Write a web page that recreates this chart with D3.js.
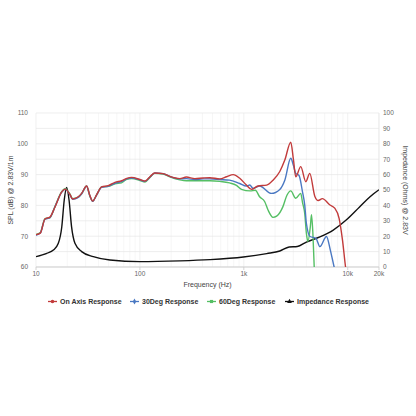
<!DOCTYPE html>
<html>
<head>
<meta charset="utf-8">
<script src="https://cdn.jsdelivr.net/npm/d3@7"></script>
<style>
  body { margin: 0; background: #fff; }
  svg { font-family: "Liberation Sans", Arial, sans-serif; }
</style>
</head>
<body>
<script>
// Dati (frequenza in Hz, SPL in dB, impedenza in Ohm)
var onAxisF = [10, 11, 12.2, 13.6, 15.2, 17.7, 19, 21.2, 22.5, 25.5, 27.5, 30.7, 33, 35.1, 38.4, 42.8, 49.6, 57.5, 66.6, 74.7, 83.3, 100, 112, 125, 139, 167, 194, 242, 280, 338, 405, 471, 588, 682, 790, 914, 1060, 1185, 1370, 1660, 1910, 2220, 2480, 2830, 3000, 3160, 3530, 3950, 4310, 4820, 5200, 5700, 6700, 7500, 8260, 8900, 9530, 10000];
var onAxisV = [70.5, 71, 75.6, 76.2, 79.4, 84.4, 85.3, 83.6, 82.1, 82.8, 83.9, 86.3, 83.2, 81.4, 83.5, 86, 86.4, 87.5, 88, 88.8, 89.1, 88.4, 87.9, 89.3, 90.5, 90.3, 89.4, 88.7, 89.2, 88.7, 88.9, 89, 88.6, 89.3, 90, 88.8, 86.6, 85.2, 86.3, 86.6, 88.2, 91, 94.7, 100.5, 95, 89.3, 92.6, 87.7, 90.4, 83, 81.6, 82.2, 80.2, 79.1, 75.8, 68.8, 60, 55];

var deg30F = [10, 11, 12.2, 13.6, 15.2, 17.7, 19, 21.2, 22.5, 25.5, 27.5, 30.7, 33, 35.1, 38.4, 42.8, 49.6, 57.5, 66.6, 74.7, 83.3, 100, 112, 125, 139, 167, 194, 242, 280, 338, 405, 471, 588, 730, 914, 1060, 1140, 1230, 1420, 1840, 2220, 2480, 2830, 3000, 3160, 3400, 3670, 3860, 4000, 4340, 4950, 5400, 6240, 6800, 7400, 7800];
var deg30V = [70.3, 71, 75.5, 76, 79.5, 84.3, 85.2, 83.5, 82, 82.6, 83.8, 86.2, 83.1, 81.3, 83.4, 85.9, 86.2, 87.2, 87.7, 88.6, 88.9, 88.3, 87.8, 89.2, 90.5, 90.3, 89.4, 88.6, 88.7, 88.4, 88.6, 88.6, 88.4, 88.2, 87.1, 86.3, 86.6, 85.5, 86.3, 83.9, 85.2, 88.2, 95.3, 93, 90.4, 89.7, 84.4, 80, 74.2, 69.9, 69.3, 66.6, 69.9, 65.5, 60, 57];

var deg60F = [10, 11, 12.2, 13.6, 15.2, 17.7, 19, 21.2, 22.5, 25.5, 27.5, 30.7, 33, 35.1, 38.4, 42.8, 49.6, 57.5, 66.6, 74.7, 83.3, 100, 112, 125, 139, 167, 194, 242, 280, 338, 405, 471, 588, 730, 850, 950, 1150, 1290, 1420, 1590, 1710, 1910, 2070, 2380, 2600, 2830, 3160, 3530, 3670, 3860, 4000, 4140, 4370, 4480, 4620, 4760, 4850];
var deg60V = [70.6, 71.2, 75.7, 76, 79.6, 84.5, 85.4, 83.7, 82.2, 82.7, 83.8, 86.3, 83, 81.4, 83.5, 86, 86.2, 87, 87.3, 88.5, 88.7, 88.1, 87.6, 89.1, 90.4, 90.2, 89.3, 88.3, 88, 88, 88, 88, 87.8, 87.3, 86.5, 85.2, 84.7, 84.9, 82.8, 81.2, 78.5, 76.1, 76.5, 79.6, 83.3, 84.7, 82.3, 83.9, 81, 77.3, 71, 68.3, 73.2, 77, 71, 60, 55];

var impF = [10, 12.7, 14.7, 16.4, 17.7, 18.7, 19.7, 20.8, 22, 23.7, 27.5, 35.6, 51.5, 100, 242, 471, 990, 1660, 2220, 2730, 3270, 4000, 5400, 7200, 9600, 13000, 16300, 20000];
var impV = [6.7, 8.9, 11, 15.4, 26, 43.5, 51.7, 43.5, 26, 15.4, 10, 6.7, 4.5, 3.5, 4, 4.8, 6.5, 8.7, 10.4, 13, 13.3, 16.2, 19.5, 23.8, 30.3, 39, 45.5, 50.2];

var xTicks = [10, 100, 1000, 10000, 20000];
var xTickLabels = ["10", "100", "1k", "10k", "20k"];
var splTicks = [60, 70, 80, 90, 100, 110];
var impTicks = [0, 10, 20, 30, 40, 50, 60, 70, 80, 90, 100];

var seriesNames = ["On Axis Response", "30Deg Response", "60Deg Response", "Impedance Response"];
var seriesColors = ["#c23b3b", "#4a78c2", "#55bf64", "#111111"];

// Area di disegno
var W = 416, H = 416;
var margin = { top: 113, right: 37, bottom: 149, left: 36 };
var width = W - margin.left - margin.right;
var height = H - margin.top - margin.bottom;

var svg = d3.select("body").append("svg")
  .attr("width", W)
  .attr("height", H);

var g = svg.append("g")
  .attr("transform", "translate(" + margin.left + "," + margin.top + ")");

// Scale
var x = d3.scaleLog().domain([10, 20000]).range([0, width]);
var ySpl = d3.scaleLinear().domain([60, 110]).range([height, 0]);
var yImp = d3.scaleLinear().domain([0, 100]).range([height, 0]);

// Griglia verticale (decadi + minori)
var minor = [];
[10, 100, 1000, 10000].forEach(function (dec) {
  for (var k = 1; k < 10; k++) {
    var f = dec * k;
    if (f <= 20000) minor.push(f);
  }
});
minor.push(20000);

g.selectAll(".vgrid").data(minor).enter().append("line")
  .attr("x1", function (d) { return x(d); })
  .attr("x2", function (d) { return x(d); })
  .attr("y1", 0).attr("y2", height)
  .attr("stroke", function (d) { return xTicks.indexOf(d) >= 0 ? "#e6e6e6" : "#f0f0f0"; })
  .attr("stroke-width", 0.6);

// Griglia orizzontale ogni 5 dB
g.selectAll(".hgrid").data(d3.range(60, 111, 5)).enter().append("line")
  .attr("x1", 0).attr("x2", width)
  .attr("y1", function (d) { return ySpl(d); })
  .attr("y2", function (d) { return ySpl(d); })
  .attr("stroke", "#e6e6e6")
  .attr("stroke-width", 0.7);

// Asse x
g.append("line")
  .attr("x1", 0).attr("x2", width)
  .attr("y1", height).attr("y2", height)
  .attr("stroke", "#c8c8c8").attr("stroke-width", 0.8);

g.selectAll(".xtick").data(xTicks).enter().append("line")
  .attr("x1", function (d) { return x(d); })
  .attr("x2", function (d) { return x(d); })
  .attr("y1", height).attr("y2", height + 3)
  .attr("stroke", "#c8c8c8").attr("stroke-width", 0.8);

g.selectAll(".xlabel").data(xTicks).enter().append("text")
  .attr("x", function (d) { return x(d); })
  .attr("y", height + 9)
  .attr("text-anchor", "middle")
  .attr("font-size", 6.5)
  .attr("fill", "#666")
  .text(function (d, i) { return xTickLabels[i]; });

// Asse sinistro
g.selectAll(".ylabel").data(splTicks).enter().append("text")
  .attr("x", -8)
  .attr("y", function (d) { return ySpl(d) + 2.3; })
  .attr("text-anchor", "end")
  .attr("font-size", 6.5)
  .attr("fill", "#666")
  .text(function (d) { return d; });

// Asse destro
g.selectAll(".rlabel").data(impTicks).enter().append("text")
  .attr("x", width + 4)
  .attr("y", function (d) { return yImp(d) + 2.3; })
  .attr("text-anchor", "start")
  .attr("font-size", 6.5)
  .attr("fill", "#666")
  .text(function (d) { return d; });

// Titoli degli assi
svg.append("text")
  .attr("x", margin.left + width / 2)
  .attr("y", 287)
  .attr("text-anchor", "middle")
  .attr("font-size", 7)
  .attr("fill", "#444")
  .text("Frequency (Hz)");

svg.append("text")
  .attr("transform", "translate(13," + (margin.top + height / 2) + ") rotate(-90)")
  .attr("text-anchor", "middle")
  .attr("font-size", 7)
  .attr("fill", "#444")
  .text("SPL (dB) @ 2.83V/1m");

svg.append("text")
  .attr("transform", "translate(403," + (margin.top + height / 2) + ") rotate(90)")
  .attr("text-anchor", "middle")
  .attr("font-size", 7)
  .attr("fill", "#444")
  .text("Impedance (Ohms) @ 2.83V");

// Clip dell'area del grafico
svg.append("defs").append("clipPath").attr("id", "plot")
  .append("rect").attr("x", 0).attr("y", -2).attr("width", width).attr("height", height + 2);

var plot = g.append("g").attr("clip-path", "url(#plot)");

function curva(fs, vs, yScale, color) {
  var pts = fs.map(function (f, i) { return [f, vs[i]]; });
  var line = d3.line()
    .x(function (d) { return x(d[0]); })
    .y(function (d) { return yScale(d[1]); })
    .curve(d3.curveMonotoneX);
  plot.append("path")
    .datum(pts)
    .attr("d", line)
    .attr("fill", "none")
    .attr("stroke", color)
    .attr("stroke-width", 1.4)
    .attr("stroke-linejoin", "round");
}

curva(impF, impV, yImp, seriesColors[3]);
curva(deg60F, deg60V, ySpl, seriesColors[2]);
curva(deg30F, deg30V, ySpl, seriesColors[1]);
curva(onAxisF, onAxisV, ySpl, seriesColors[0]);

// Legenda
var legendX = [48, 130, 207, 285];
var legend = svg.selectAll(".legend").data(seriesNames).enter().append("g")
  .attr("transform", function (d, i) { return "translate(" + legendX[i] + ",301.5)"; });

legend.append("line")
  .attr("x1", 0).attr("x2", 9).attr("y1", 0).attr("y2", 0)
  .attr("stroke", function (d, i) { return seriesColors[i]; })
  .attr("stroke-width", 1.3);

legend.append("path")
  .attr("transform", "translate(4.5,0)")
  .attr("d", function (d, i) {
    var tipo = [d3.symbolCircle, d3.symbolDiamond, d3.symbolSquare, d3.symbolTriangle][i];
    return d3.symbol().type(tipo).size(10)();
  })
  .attr("fill", function (d, i) { return seriesColors[i]; });

legend.append("text")
  .attr("x", 12)
  .attr("y", 2.5)
  .attr("font-size", 7)
  .attr("font-weight", "bold")
  .attr("fill", "#333")
  .text(function (d) { return d; });
</script>
</body>
</html>
